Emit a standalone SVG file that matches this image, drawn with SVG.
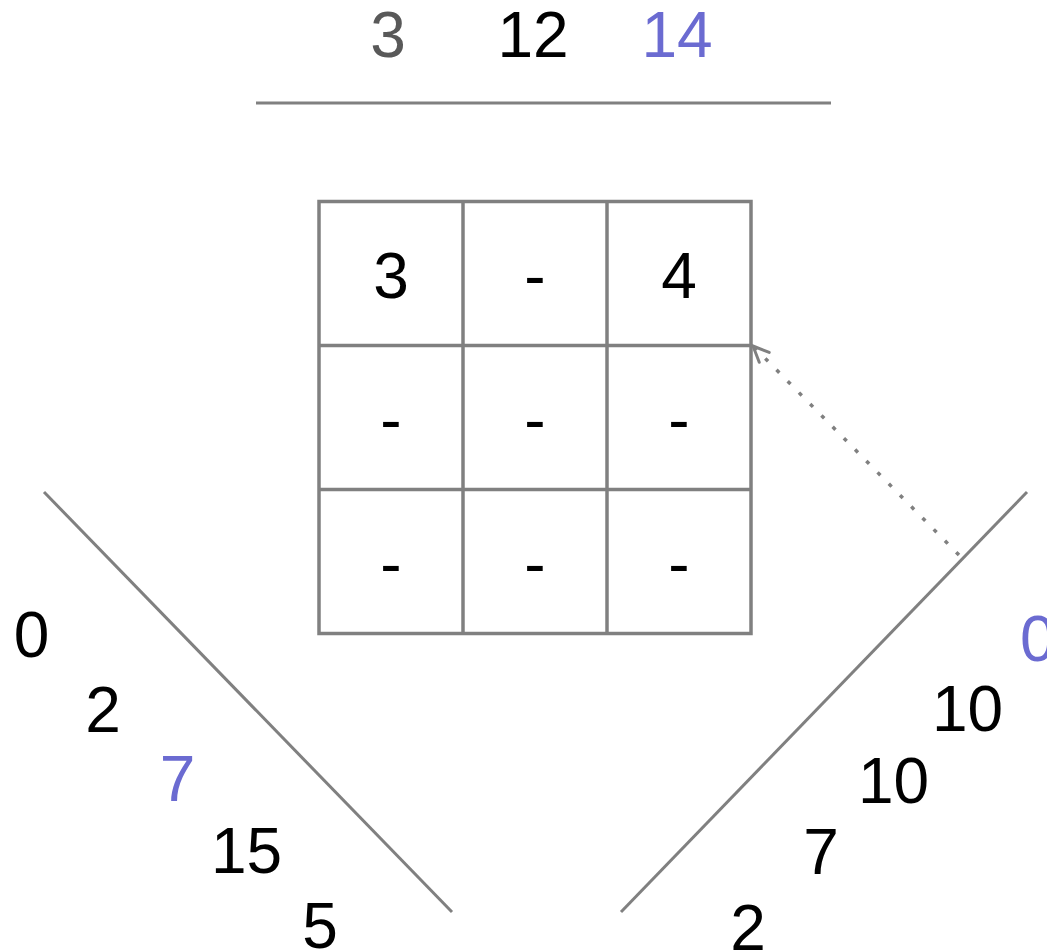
<svg xmlns="http://www.w3.org/2000/svg" width="1047" height="952" viewBox="0 0 1047 952">
  <style>
    .t { font-family: "Liberation Sans", Arial, sans-serif; font-size: 64px; fill: #000000; text-anchor: middle; }
    .g { fill: #595959; }
    .b { fill: #6b6bd1; }
    .ln { stroke: #808080; stroke-width: 3; fill: none; }
    .grid { stroke: #808080; stroke-width: 3.5; fill: none; }
  </style>
  <defs>
    <marker id="open" viewBox="0 0 24 24" refX="20" refY="12" markerWidth="24" markerHeight="24" markerUnits="userSpaceOnUse" orient="auto">
      <path d="M 4 5 L 20 12 L 4 19" fill="none" stroke="#808080" stroke-width="3" stroke-linecap="round" stroke-linejoin="miter"/>
    </marker>
  </defs>
  <rect width="1047" height="952" fill="#ffffff"/>

  <g id="top-list">
    <text class="t g" x="388" y="57">3</text>
    <text class="t" x="533" y="57">12</text>
    <text class="t b" x="677" y="57">14</text>
    <line class="ln" x1="256" y1="103" x2="831" y2="103"/>
  </g>

  <g id="grid">
    <rect class="grid" x="319" y="201.5" width="432" height="432"/>
    <line class="grid" x1="463" y1="201.5" x2="463" y2="633.5"/>
    <line class="grid" x1="607" y1="201.5" x2="607" y2="633.5"/>
    <line class="grid" x1="319" y1="345.5" x2="751" y2="345.5"/>
    <line class="grid" x1="319" y1="489.5" x2="751" y2="489.5"/>
    <text class="t" x="391" y="298">3</text>
    <text class="t" x="535" y="298">-</text>
    <text class="t" x="679" y="298">4</text>
    <text class="t" x="391" y="442">-</text>
    <text class="t" x="535" y="442">-</text>
    <text class="t" x="679" y="442">-</text>
    <text class="t" x="391" y="586">-</text>
    <text class="t" x="535" y="586">-</text>
    <text class="t" x="679" y="586">-</text>
  </g>

  <g id="left-list">
    <line class="ln" x1="44" y1="492" x2="452" y2="912"/>
    <text class="t" x="31.5" y="657">0</text>
    <text class="t" x="103" y="732">2</text>
    <text class="t b" x="177.5" y="801">7</text>
    <text class="t" x="246.5" y="873">15</text>
    <text class="t" x="320" y="948">5</text>
  </g>

  <g id="right-list">
    <line class="ln" x1="1027" y1="492" x2="621" y2="912"/>
    <text class="t b" x="1020" y="661" style="text-anchor:start">0</text>
    <text class="t" x="967.5" y="731">10</text>
    <text class="t" x="893.5" y="803">10</text>
    <text class="t" x="821" y="874">7</text>
    <text class="t" x="748" y="950">2</text>
  </g>

  <g id="connectors">
    <line x1="959" y1="555" x2="753" y2="346" stroke="#808080" stroke-width="3.5" stroke-dasharray="4 12" marker-end="url(#open)"/>
  </g>
</svg>
